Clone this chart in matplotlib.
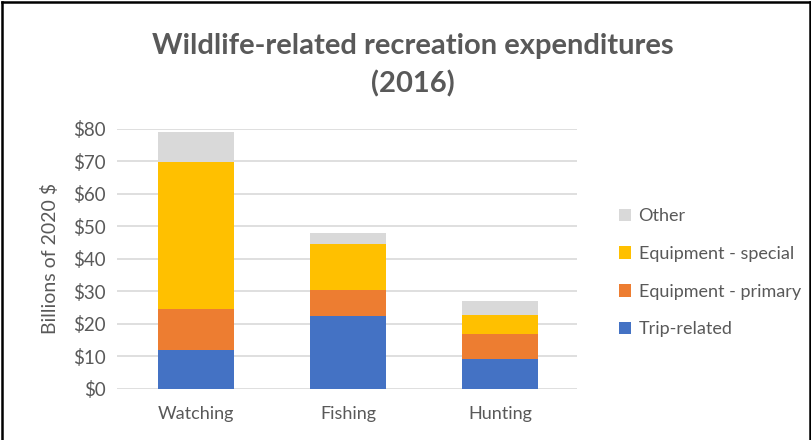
import numpy as np
import matplotlib.pyplot as plt
from matplotlib.lines import Line2D

categories = ["Watching", "Fishing", "Hunting"]
series = ["Trip-related", "Equipment - primary", "Equipment - special", "Other"]
trip = [11.9, 22.3, 9.3]
equip_primary = [12.7, 8.1, 7.7]
equip_special = [45.1, 14.1, 5.7]
other = [9.5, 3.5, 4.3]
yticks = [0, 10, 20, 30, 40, 50, 60, 70, 80]

colors = ["#4472C4", "#ED7D31", "#FFC000", "#D9D9D9"]
txt = "#595959"

plt.rcParams["font.family"] = ["Lato", "DejaVu Sans"]

fig = plt.figure(figsize=(8.12, 4.4), dpi=100)
ax = fig.add_axes([0.144, 0.116, 0.567, 0.591])

x = np.arange(len(categories))
bottom = np.zeros(len(categories))
for vals, name, c in zip([trip, equip_primary, equip_special, other], series, colors):
    ax.bar(x, vals, 0.5, bottom=bottom, color=c, label=name, zorder=3)
    bottom += np.array(vals)

ax.set_xlim(-0.52, 2.51)
ax.set_ylim(0, 80)
ax.set_yticks(yticks)
ax.set_yticklabels([f"${v}" for v in yticks], fontsize=13.5, color=txt)
ax.set_xticks(x)
ax.set_xticklabels(categories, fontsize=13, color=txt)
ax.tick_params(length=0, pad=8)
ax.tick_params(axis="x", pad=12)
ax.yaxis.grid(True, color="#D9D9D9", lw=1.2, zorder=0)
for s in ax.spines.values():
    s.set_visible(False)
ax.set_ylabel("Billions of 2020 $", fontsize=14, color=txt)
ax.yaxis.set_label_coords(-0.125, 0.5)

fig.text(0.508, 0.895, "Wildlife-related recreation expenditures", ha="center",
         va="center", fontsize=21, fontweight="bold", color=txt)
fig.text(0.508, 0.81, "(2016)", ha="center", va="center", fontsize=21,
         fontweight="bold", color=txt)

handles, labels = ax.get_legend_handles_labels()
leg = fig.legend(handles[::-1], labels[::-1], loc="center left",
                 bbox_to_anchor=(0.742, 0.38), frameon=False, fontsize=13,
                 handlelength=0.7, handleheight=0.7, handletextpad=0.4,
                 labelspacing=1.2)
for t in leg.get_texts():
    t.set_color(txt)

# outer frame
for xs, ys in [([0.003, 0.003], [0, 0.996]), ([0.003, 0.997], [0.996, 0.996]),
               ([0.997, 0.997], [0, 0.996])]:
    fig.add_artist(Line2D(xs, ys, color="black", lw=1.8, transform=fig.transFigure))

fig.savefig("out.png", dpi=100)
